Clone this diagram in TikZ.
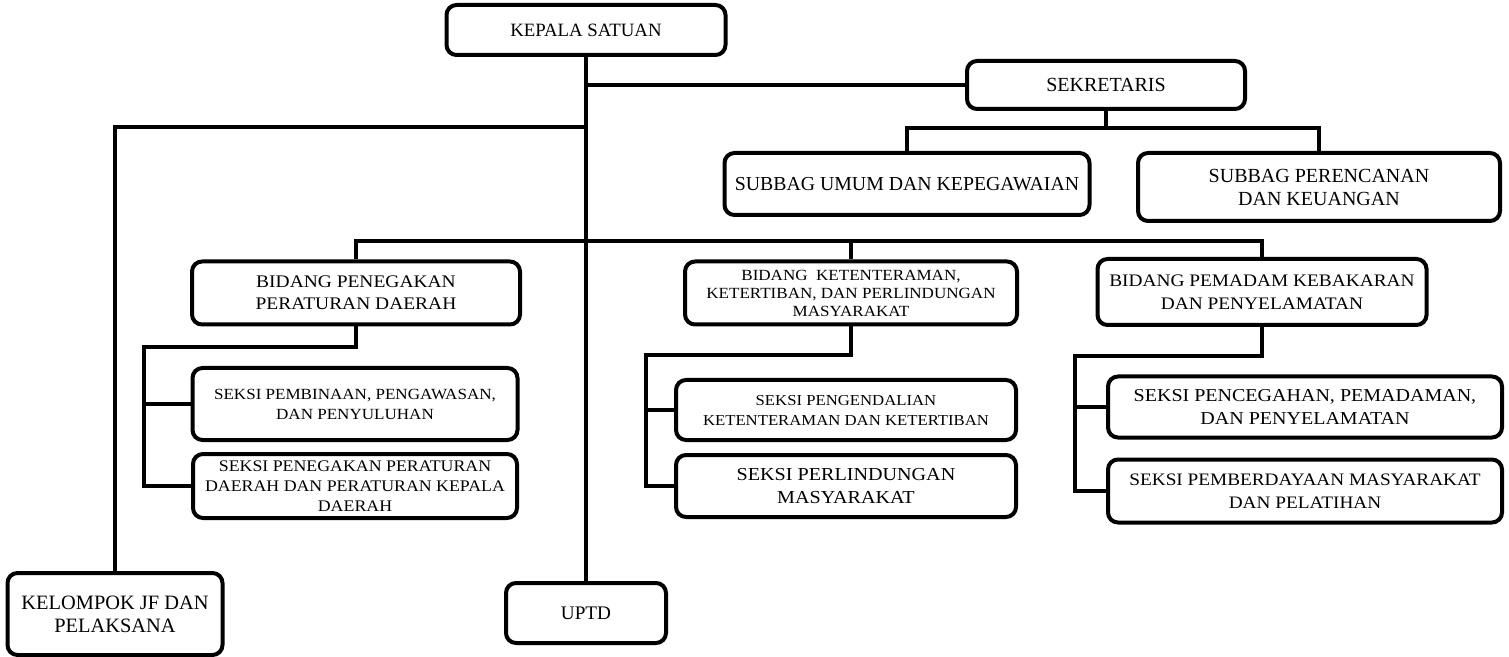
\documentclass[tikz,border=0pt]{standalone}
\usepackage{fontspec}
\setmainfont{Liberation Serif}
\newfontfamily\widefont[FakeStretch=1.1]{Liberation Serif}

\begin{document}
\begin{tikzpicture}[x=0.5pt, y=-0.5pt]
    \tikzstyle{unit}=[draw, rounded corners=5pt, line width=2pt, align=center, inner sep=0pt]
    \tikzstyle{link}=[line width=1.6pt]
    \tikzset{boxsize/.style 2 args={minimum width=#1*0.5pt, minimum height=#2*0.5pt}}

    \useasboundingbox (0,0) rectangle (1509,657);

    \node[unit, boxsize={279}{50}, font=\fontsize{9.4}{11}\selectfont] (kepala) at (586,30) {KEPALA SATUAN};
    \node[unit, boxsize={278}{48}, font=\fontsize{10}{12}\selectfont] (sek) at (1106,85) {SEKRETARIS};
    \node[unit, boxsize={365}{62}, font=\fontsize{9.9}{12}\selectfont] (umum) at (907,184) {SUBBAG UMUM DAN KEPEGAWAIAN};
    \node[unit, boxsize={362}{68}, font=\fontsize{10}{11.5}\selectfont] (renc) at (1319,187) {SUBBAG PERENCANAN\\DAN KEUANGAN};

    \node[unit, boxsize={328}{63}, font=\widefont\fontsize{8.85}{11}\selectfont] (b1) at (356,293) {BIDANG PENEGAKAN\\PERATURAN DAERAH};
    \node[unit, boxsize={332}{63}, font=\widefont\fontsize{7.75}{9}\selectfont] (b2) at (851,293) {BIDANG\ \ KETENTERAMAN,\\KETERTIBAN, DAN PERLINDUNGAN\\MASYARAKAT};
    \node[unit, boxsize={329}{66}, font=\widefont\fontsize{8.8}{11.5}\selectfont] (b3) at (1262,292) {BIDANG PEMADAM KEBAKARAN\\DAN PENYELAMATAN};

    \node[unit, boxsize={325}{72}, font=\widefont\fontsize{7.75}{10}\selectfont] (s11) at (355,404) {SEKSI PEMBINAAN, PENGAWASAN,\\DAN PENYULUHAN};
    \node[unit, boxsize={324}{64}, font=\widefont\fontsize{8.1}{10}\selectfont] (s12) at (355,486) {SEKSI PENEGAKAN PERATURAN\\DAERAH DAN PERATURAN KEPALA\\DAERAH};
    \node[unit, boxsize={340}{60}, font=\widefont\fontsize{7.6}{10}\selectfont] (s21) at (846,410) {SEKSI PENGENDALIAN\\KETENTERAMAN DAN KETERTIBAN};
    \node[unit, boxsize={340}{62}, font=\widefont\fontsize{9.15}{11.5}\selectfont] (s22) at (846,486) {SEKSI PERLINDUNGAN\\MASYARAKAT};
    \node[unit, boxsize={394}{61}, font=\widefont\fontsize{9.1}{11.5}\selectfont] (s31) at (1305,407) {SEKSI PENCEGAHAN, PEMADAMAN,\\DAN PENYELAMATAN};
    \node[unit, boxsize={394}{63}, font=\widefont\fontsize{8.75}{11.5}\selectfont] (s32) at (1305,491) {SEKSI PEMBERDAYAAN MASYARAKAT\\DAN PELATIHAN};

    \node[unit, boxsize={215}{82}, font=\fontsize{10.2}{11.5}\selectfont] (kel) at (115,614) {KELOMPOK JF DAN\\PELAKSANA};
    \node[unit, boxsize={160}{60}, font=\fontsize{9.6}{11}\selectfont] (uptd) at (586,613) {UPTD};

    % junctions
    \coordinate (jl) at (586,127);
    \coordinate (js) at (1106,128);
    \coordinate (jb) at (586,241);
    \coordinate (c1) at (144,347);
    \coordinate (c2) at (646,355);
    \coordinate (c3) at (1075,356);

    \draw[link] (kepala) -- (uptd);
    \draw[link] (sek.west) -- (sek.west -| kepala.south);
    \draw[link] (kel.north) |- (jl);
    \draw[link] (sek) -- (js);
    \draw[link] (umum.north) |- (js) -| (renc.north);
    \draw[link] (b1.north) |- (jb) -| (b3.north);
    \draw[link] (b2.north) -- (b2.north |- jb);

    \draw[link] (b1.south) |- (c1) |- (s12.west);
    \draw[link] (s11.west) -- (s11.west -| c1);
    \draw[link] (b2.south) |- (c2) |- (s22.west);
    \draw[link] (s21.west) -- (s21.west -| c2);
    \draw[link] (b3.south) |- (c3) |- (s32.west);
    \draw[link] (s31.west) -- (s31.west -| c3);
\end{tikzpicture}
\end{document}
